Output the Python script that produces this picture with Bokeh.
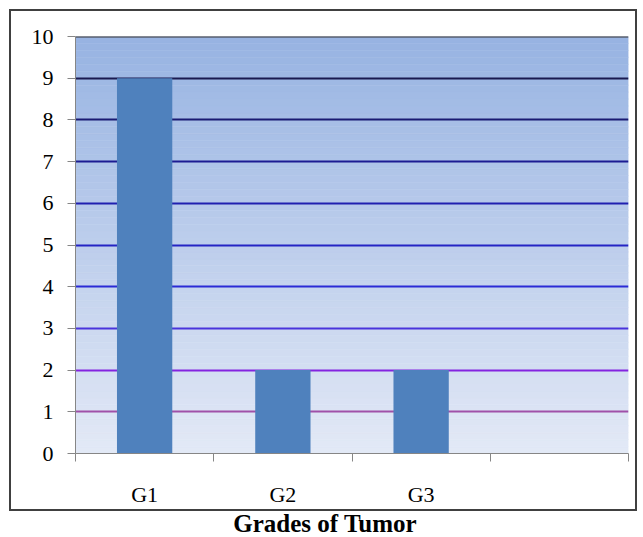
import numpy as np
from bokeh.plotting import figure
from bokeh.models import FixedTicker, Div, Range1d
from bokeh.layouts import column
from bokeh.embed import file_html
from bokeh.resources import INLINE

# ---- data ----
grades = ["G1", "G2", "G3"]
counts = [9, 2, 2]
n_slots = 4
y_ticks = list(range(0, 11))
grid_levels = [1, 2, 3, 4, 5, 6, 7, 8, 9, 10]
grid_colors = ["#a050a8", "#8424e0", "#4a34dc", "#2a2ad6", "#2424c4",
               "#2020b0", "#1c1c92", "#1a1a72", "#1a1a50", "#333333"]
title_text = "Grades of Tumor"

xs = [i + 0.5 for i in range(len(grades))]
slot_edges = list(range(0, n_slots + 1))

p = figure(width=628, height=502, output_backend="svg", toolbar_location=None,
           x_range=Range1d(0, n_slots), y_range=Range1d(0, 10),
           min_border_left=64, min_border_right=11, min_border_top=25, min_border_bottom=60,
           styles={"border": "2px solid #404040"})
p.xgrid.visible = False
p.ygrid.visible = False
p.outline_line_color = None
p.background_fill_color = "white"
p.border_fill_color = "white"

# gradient background
N = 60
edges = np.linspace(0, 10, N + 1)
top_c = np.array([0x97, 0xb3, 0xe2])
bot_c = np.array([0xe3, 0xe9, 0xf6])
cols = []
for k in range(N):
    t = (edges[k] + edges[k + 1]) / 2 / 10
    c = bot_c + (top_c - bot_c) * t
    cols.append("#%02x%02x%02x" % tuple(int(round(v)) for v in c))
p.quad(left=0, right=n_slots, bottom=edges[:-1], top=edges[1:], fill_color=cols,
       line_color=cols, line_width=0.5)

# gridlines
p.hspan(y=grid_levels, line_color=grid_colors, line_width=2)

# bars
p.vbar(x=xs, top=counts, width=0.4, fill_color="#4f81bd", line_color=None)

# axes
ax = p.yaxis[0]
ax.ticker = FixedTicker(ticks=y_ticks)
ax.axis_line_color = "#868686"
ax.major_tick_line_color = "#868686"
ax.major_tick_out = 8
ax.major_tick_in = 0
ax.minor_tick_out = 0
ax.minor_tick_in = 0
ax.major_label_text_font = "Liberation Serif"
ax.major_label_text_font_size = "22px"
ax.major_label_text_color = "black"
ax.major_label_standoff = 14

bx = p.xaxis[0]
bx.ticker = FixedTicker(ticks=xs, minor_ticks=slot_edges)
bx.major_label_overrides = {x: g for x, g in zip(xs, grades)}
bx.axis_line_color = "#868686"
bx.major_tick_out = 0
bx.major_tick_in = 0
bx.minor_tick_line_color = "#868686"
bx.minor_tick_out = 8
bx.minor_tick_in = 0
bx.major_label_text_font = "Liberation Serif"
bx.major_label_text_font_size = "22px"
bx.major_label_text_color = "black"
bx.major_label_standoff = 20

title = Div(text=title_text, width=632, height=25,
            styles={"text-align": "center", "font-family": "Liberation Serif",
                    "font-weight": "bold", "font-size": "25px", "color": "black",
                    "margin": "0", "line-height": "25px"})

layout = column(p, title, spacing=0, styles={"padding": "9px 0 0 9px"})
open("out.html", "w").write(file_html(layout, INLINE))
